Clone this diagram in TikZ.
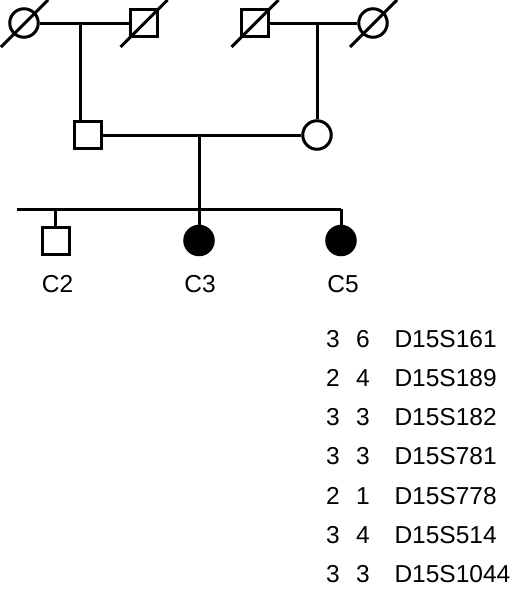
\documentclass[tikz,border=0pt]{standalone}
\usepackage{fontspec}
\setmainfont{Liberation Sans}
\usetikzlibrary{shapes,positioning}

\begin{document}
\begin{tikzpicture}[x=1pt, y=-1pt, line width=3pt,
    male/.style={draw, rectangle, minimum size=27pt, inner sep=0pt},
    female/.style={draw, circle, minimum size=28.5pt, inner sep=0pt},
    affected/.style={fill=black},
    slash/.style={line width=3pt},
    childlabel/.style={font=\fontsize{24.5}{29}\selectfont, anchor=base},
    marker/.style={font=\fontsize{24.5}{29}\selectfont, anchor=base}]

    \useasboundingbox (0,0) rectangle (520,589);

    % Grandparents
    \node[female] (gm1) at (24,23) {};
    \node[male]   (gf1) at (143.5,23) {};
    \node[male]   (gf2) at (254.5,23) {};
    \node[female] (gm2) at (373,23) {};

    % Deceased
    \foreach \n in {gm1,gf1,gf2,gm2}
      \draw[slash] (\n.center) ++(-23,24) -- ++(47,-47);

    % Parents
    \node[male]   (father) at (88,135) {};
    \node[female] (mother) at (317,135) {};

    % Marriage lines and descent
    \draw (gm1) -- (gf1);
    \draw (gf2) -- (gm2);
    \coordinate (m1) at (80,23);
    \coordinate (m2) at (317,23);
    \draw (m1) -- (m1 |- father.north);
    \draw (m2) -- (mother);
    \draw (father) -- (mother);

    % Children
    \node[male] (c2) at (55.5,241) {};
    \node[female, affected] (c3) at (199,240.5) {};
    \node[female, affected] (c5) at (341,240.5) {};

    \coordinate (m3) at (199,135);
    \coordinate (sibL) at (17,209);
    \draw (sibL) -- (c5 |- sibL);
    \draw (m3) -- (c3);
    \draw (c2 |- sibL) -- (c2);
    \draw (c5 |- sibL) -- (c5);

    % Labels
    \node[childlabel] (l2) at (57.5,292.5) {C2};
    \node[childlabel] (l3) at (200,292.5) {C3};
    \node[childlabel] (l5) at (343,292.5) {C5};

    % Haplotype
    \foreach \a/\b/\m [count=\i from 0] in {3/6/D15S161, 2/4/D15S189, 3/3/D15S182,
        3/3/D15S781, 2/1/D15S778, 3/4/D15S514, 3/3/D15S1044} {
      \node[marker] (a\i) at (333,{347+39.3*\i}) {\a};
      \node[marker] (b\i) at (363,{347+39.3*\i}) {\b};
      \node[marker, anchor=base west, inner sep=0pt] (mk\i) at (393,{347+39.3*\i}) {\m};
    }

\end{tikzpicture}
\end{document}
